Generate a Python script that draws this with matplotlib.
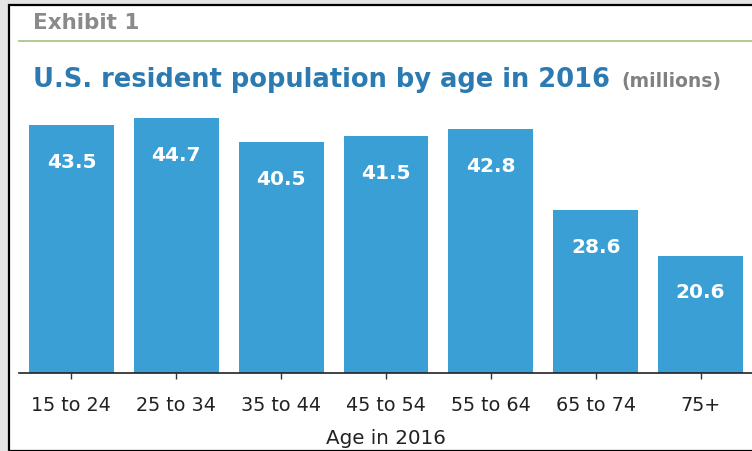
import numpy as np
import matplotlib
matplotlib.use('Agg')
import matplotlib.pyplot as plt
from matplotlib.patches import Rectangle

# data
age_groups = ['15 to 24', '25 to 34', '35 to 44', '45 to 54', '55 to 64', '65 to 74', '75+']
population = [43.5, 44.7, 40.5, 41.5, 42.8, 28.6, 20.6]

plt.rcParams['font.family'] = ['DejaVu Sans']

W, H = 752, 452
fig = plt.figure(figsize=(W / 100, H / 100), dpi=100, facecolor='#e4e4e4')

# white panel with black frame (behind everything)
panel = Rectangle((9 / W, 0), 1.0, 1 - 6 / H, transform=fig.transFigure,
                  facecolor='white', edgecolor='black', linewidth=1.6, zorder=-5)
fig.patches.append(panel)

# header
fig.text(33 / W, 1 - 23 / H, 'Exhibit 1', color='#8a8a8a', fontsize=15.5,
         fontweight='bold', va='center', ha='left')
fig.add_artist(plt.Line2D([19 / W, 1], [1 - 42 / H, 1 - 42 / H], color='#a6c98a',
                          linewidth=1.3, transform=fig.transFigure))
t = fig.text(33 / W, 1 - 80 / H, 'U.S. resident population by age in 2016',
             color='#2b7bb2', fontsize=18.5, fontweight='bold', va='center', ha='left')
fig.canvas.draw()
bb = t.get_window_extent()
fig.text(bb.x1 / W + 11 / W, 1 - 81 / H, '(millions)', color='#808080',
         fontsize=13.5, fontweight='bold', va='center', ha='left')

# bar chart
ax = fig.add_axes([19 / W, (H - 374) / H, (W - 19) / W, 274 / H])
ax.set_facecolor('none')
x = np.arange(len(age_groups))
bars = ax.bar(x, population, width=0.81, color='#3a9fd5')
ax.set_xlim(-0.5, 6.49)
ax.set_ylim(0, 274 / 5.70)

for rect, val in zip(bars, population):
    ax.annotate(f'{val}', (rect.get_x() + rect.get_width() / 2, rect.get_height()),
                xytext=(0, -26), textcoords='offset points', ha='center', va='center',
                color='white', fontsize=14.5, fontweight='bold')

for s in ['top', 'right', 'left']:
    ax.spines[s].set_visible(False)
ax.spines['bottom'].set_color('#222222')
ax.spines['bottom'].set_linewidth(1.2)
ax.set_yticks([])
ax.set_xticks(x)
ax.set_xticklabels(age_groups, fontsize=13.8, color='#222222')
ax.tick_params(axis='x', length=4, width=1, color='#333333', pad=12)
ax.set_xlabel('Age in 2016', fontsize=14.3, color='#222222', labelpad=10)

fig.savefig('out.png', dpi=100, facecolor=fig.get_facecolor())
